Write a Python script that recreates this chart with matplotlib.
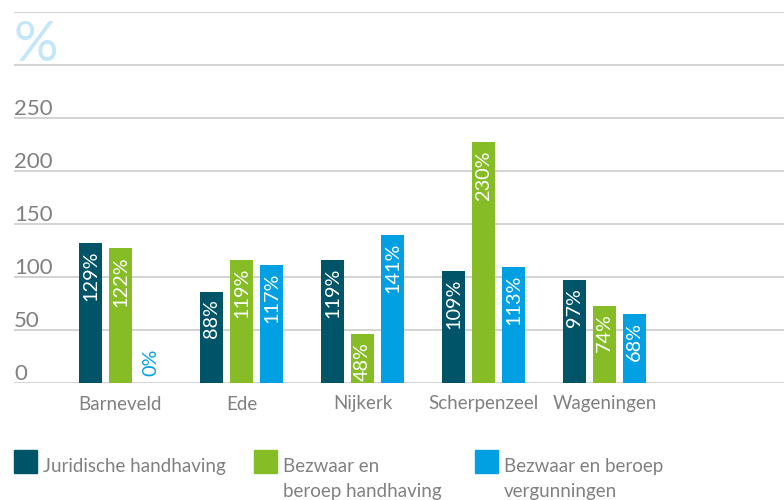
import matplotlib
matplotlib.use('Agg')
import matplotlib.pyplot as plt
from matplotlib.patches import Rectangle
import matplotlib.transforms as mtransforms
import numpy as np

plt.rcParams['font.family'] = ['Lato', 'DejaVu Sans']

gemeenten = ['Barneveld', 'Ede', 'Nijkerk', 'Scherpenzeel', 'Wageningen']
juridisch = [132, 86, 116, 106, 97]
bezwaar_handhaving = [127, 116, 46, 227, 73]
bezwaar_vergunning = [0, 111, 140, 109, 65]
labels_juridisch = ['129%', '88%', '119%', '109%', '97%']
labels_handhaving = ['122%', '119%', '48%', '230%', '74%']
labels_vergunning = ['0%', '117%', '141%', '113%', '68%']
series_names = ['Juridische handhaving', 'Bezwaar en\nberoep handhaving', 'Bezwaar en beroep\nvergunningen']
colors = ['#005468', '#86bc25', '#00a0e2']
yticks = [0, 50, 100, 150, 200, 250, 300, 350]

grey = '#808080'

fig = plt.figure(figsize=(7.84, 5), dpi=100)
ax = fig.add_axes([14 / 784, 117 / 500, 770 / 784, 371 / 500])

x = np.arange(len(gemeenten))
pitch = 30 / 121
width = 23 / 121

series = [(juridisch, labels_juridisch), (bezwaar_handhaving, labels_handhaving),
          (bezwaar_vergunning, labels_vergunning)]

for k, (vals, labs) in enumerate(series):
    xs = x + (k - 1) * pitch
    ax.bar(xs, vals, width=width, color=colors[k], zorder=3)
    for xi, v, lab in zip(xs, vals, labs):
        if v > 20:
            ax.annotate(lab, (xi, v), xytext=(0, -5.5), textcoords='offset points',
                        rotation=90, ha='center', va='top', color='white',
                        fontsize=14.3, zorder=4)
        else:
            ax.annotate(lab, (xi, v), xytext=(0, 5), textcoords='offset points',
                        rotation=90, ha='center', va='bottom', color=colors[k],
                        fontsize=14.3, zorder=4)

ax.set_xlim(-106.5 / 121, (784 - 120.5) / 121)
ax.set_ylim(0, 350)

for yv in yticks:
    ax.axhline(yv, color='#c8c8c8', lw=1.1, zorder=1)

trans = mtransforms.blended_transform_factory(ax.transAxes, ax.transData)
for yv in yticks[:-2]:
    ax.annotate(str(yv), (0, yv), xycoords=trans, xytext=(0, 2.2),
                textcoords='offset points', ha='left', va='baseline',
                color=grey, fontsize=16)
ax.annotate('%', (0, 304), xycoords=trans, xytext=(0, 0), textcoords='offset points',
            ha='left', va='baseline', color='#c3e6f8', fontsize=40)

ax.set_xticks(x)
ax.set_xticklabels(gemeenten, fontsize=13.5, color=grey)
ax.tick_params(axis='x', length=0, pad=9)
ax.set_yticks([])
for s in ax.spines.values():
    s.set_visible(False)

# legend
leg_x = [14, 254, 475]
for k in range(3):
    fig.patches.append(Rectangle((leg_x[k] / 784, (500 - 473) / 500), 23 / 784, 23 / 500,
                                 transform=fig.transFigure, color=colors[k]))
    lines = series_names[k].split('\n')
    for j, line in enumerate(lines):
        fig.text((leg_x[k] + 29) / 784, (500 - 472 - 25 * j) / 500, line,
                 ha='left', va='baseline', color=grey, fontsize=13.5)

plt.savefig('out.png', dpi=100)
